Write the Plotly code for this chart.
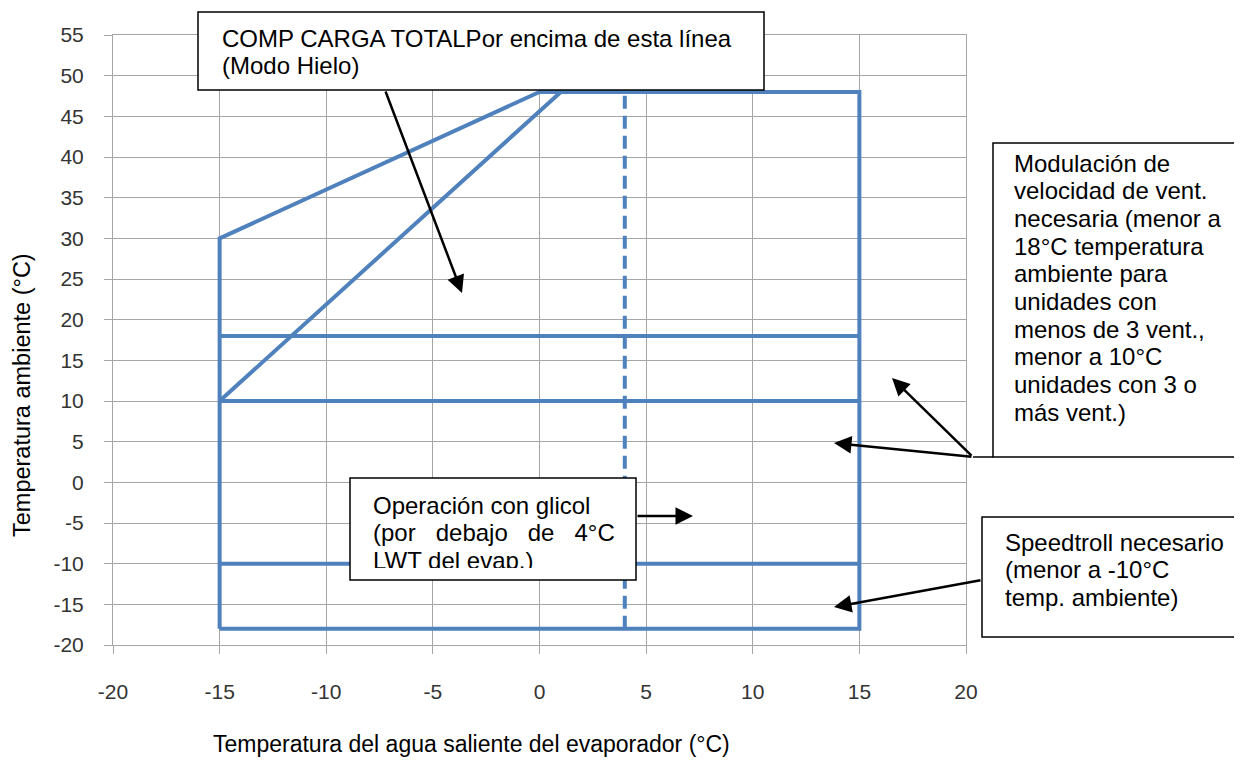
import plotly.graph_objects as go

# ---- data ----
envelope_x = [-15, -15, 0, 15, 15, -15]
envelope_y = [-18, 30, 48, 48, -18, -18]
diag_x = [-15, 1]
diag_y = [10, 48]
h18_x = [-15, 15]
h18_y = [18, 18]
h10_x = [-15, 15]
h10_y = [10, 10]
hm10_x = [-15, 15]
hm10_y = [-10, -10]
lwt4_x = [4, 4]
lwt4_y = [-18, 48]

x_ticks = [-20, -15, -10, -5, 0, 5, 10, 15, 20]
x_ticktext = ["-20", "-15", "-10", "-5", "0", "5", "10", "15", "20"]
y_ticks = [-20, -15, -10, -5, 0, 5, 10, 15, 20, 25, 30, 35, 40, 45, 50, 55]
y_ticktext = ["-20", "-15", "-10", "-5", "0", "5", "10", "15", "20", "25", "30",
              "35", "40", "45", "50", "55"]

NB = "\u00a0"
lines_comp = ["COMP CARGA TOTALPor encima de esta línea", "(Modo Hielo)"]
lines_gli = ["Operación con glicol",
             "(por" + NB * 3 + "debajo" + NB * 3 + "de" + NB * 3 + "4°C",
             "LWT del evap.)"]
lines_mod = ["Modulación de", "velocidad de vent.", "necesaria (menor a",
             "18°C temperatura", "ambiente para", "unidades con",
             "menos de 3 vent.,", "menor a 10°C", "unidades con 3 o", "más vent.)"]
lines_spd = ["Speedtroll necesario", "(menor a -10°C", "temp. ambiente)"]

# ---- layout geometry (page pixels; page body has an 8px margin) ----
OFF = 8
W, H = 1242 - OFF, 760 - OFF
PL, PT, PRR, PB = 113, 35, 966, 645      # plot area in page pixels
PW, PH = PRR - PL, PB - PT
XR = [-20, 20]
YR = [-20, 55]


def pxp(px):
    return (px - PL) / PW


def pyp(py):
    return (PB - py) / PH


def dx(px):
    return XR[0] + (px - PL) / PW * (XR[1] - XR[0])


def dy(py):
    return YR[0] + (PB - py) / PH * (YR[1] - YR[0])


BLUE = "#4F81BD"
LW = 4

fig = go.Figure()
for xs, ys in [(envelope_x, envelope_y), (diag_x, diag_y), (h18_x, h18_y),
               (h10_x, h10_y), (hm10_x, hm10_y)]:
    fig.add_trace(go.Scatter(x=xs, y=ys, mode="lines",
                             line=dict(color=BLUE, width=LW), showlegend=False,
                             hoverinfo="skip"))
fig.add_trace(go.Scatter(x=lwt4_x, y=lwt4_y, mode="lines",
                         line=dict(color=BLUE, width=LW, dash="13px,7px"),
                         showlegend=False, hoverinfo="skip"))

FONT = "Liberation Sans, Arial, sans-serif"
BOXFONT = 24
shapes = []
annotations = []

# boxes
for (x0, y0, x1, y1) in [(198, 12, 764, 90), (350, 478, 636, 580),
                         (993, 143, 1270, 457), (982, 517, 1270, 637)]:
    shapes.append(dict(type="rect", xref="paper", yref="paper",
                       x0=pxp(x0), x1=pxp(x1), y0=pyp(y1), y1=pyp(y0),
                       line=dict(color="black", width=1.5), fillcolor="white",
                       layer="above"))
# short connector at bottom-left of modulación box
shapes.append(dict(type="line", xref="paper", yref="paper",
                   x0=pxp(973), x1=pxp(993), y0=pyp(457), y1=pyp(457),
                   line=dict(color="black", width=1.5), layer="above"))


# texts, one annotation per line
def add_lines(lines, x, y_first, step):
    for i, t in enumerate(lines):
        annotations.append(dict(text=t, xref="paper", yref="paper",
                                x=pxp(x), y=pyp(y_first + i * step),
                                xanchor="left", yanchor="middle", align="left",
                                showarrow=False,
                                font=dict(family=FONT, size=BOXFONT, color="black")))


add_lines(lines_comp, 220, 38, 27)
add_lines(lines_gli, 371, 505, 27.5)
add_lines(lines_mod, 1012, 163, 27.7)
add_lines(lines_spd, 1003, 542, 27.5)

# cover clipping the bottom of the glycol text (text-box inset)
annotations.append(dict(text=NB, xref="paper", yref="paper",
                        x=pxp(351.5), y=pyp(568), xanchor="left", yanchor="top",
                        width=283, height=11, bgcolor="white", borderpad=0,
                        borderwidth=0, showarrow=False, font=dict(size=8)))

# arrows: (tail px, tail py, head px, head py)
for (tx, ty, hx, hy) in [(385, 90, 462, 293), (636, 516, 693, 516),
                         (973, 457, 892, 378), (973, 457, 834, 443),
                         (982, 580, 834, 607)]:
    annotations.append(dict(text="", x=dx(hx), y=dy(hy), xref="x", yref="y",
                            ax=dx(tx), ay=dy(ty), axref="x", ayref="y",
                            showarrow=True, arrowhead=2, arrowsize=1.4,
                            arrowwidth=2.5, arrowcolor="black", standoff=0))

# axis titles
annotations.append(dict(text="Temperatura ambiente (°C)", xref="paper", yref="paper",
                        x=pxp(22), y=pyp(395), textangle=-90, showarrow=False,
                        xanchor="center", yanchor="middle",
                        font=dict(family=FONT, size=23.5, color="black")))
annotations.append(dict(text="Temperatura del agua saliente del evaporador (°C)",
                        xref="paper", yref="paper", x=pxp(471), y=pyp(744),
                        showarrow=False, xanchor="center", yanchor="middle",
                        font=dict(family=FONT, size=23, color="black")))

GRID = "#A6A6A6"
TICKFONT = dict(family=FONT, size=21, color="#333333")
fig.update_layout(
    width=W, height=H,
    margin=dict(l=PL - OFF, r=W - (PRR - OFF), t=PT - OFF, b=H - (PB - OFF),
                autoexpand=False),
    paper_bgcolor="white", plot_bgcolor="white",
    showlegend=False,
    shapes=shapes, annotations=annotations,
    xaxis=dict(range=XR, tickvals=x_ticks, ticktext=x_ticktext, showgrid=True,
               gridcolor=GRID, gridwidth=1,
               zeroline=False, showline=True, linecolor=GRID, linewidth=1, mirror=True,
               ticks="outside", ticklen=8, tickcolor=GRID, tickfont=TICKFONT,
               ticklabelstandoff=20, fixedrange=True),
    yaxis=dict(range=YR, tickvals=y_ticks, ticktext=y_ticktext, showgrid=True,
               gridcolor=GRID, gridwidth=1,
               zeroline=False, showline=True, linecolor=GRID, linewidth=1, mirror=True,
               ticks="outside", ticklen=8, tickcolor=GRID, tickfont=TICKFONT,
               ticklabelstandoff=16, fixedrange=True),
)

fig.write_html("out.html")
